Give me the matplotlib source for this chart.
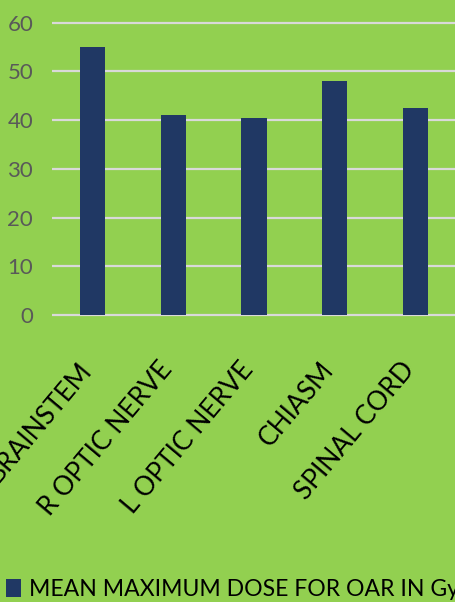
import matplotlib
matplotlib.use('Agg')
import matplotlib.pyplot as plt
from matplotlib.patches import Patch

# Data
organs = ["BRAINSTEM", "R OPTIC NERVE", "L OPTIC NERVE", "CHIASM", "SPINAL CORD"]
mean_max_dose = [55, 41, 40.4, 48, 42.5]
y_ticks = [0, 10, 20, 30, 40, 50, 60]
series_name = "MEAN MAXIMUM DOSE FOR OAR IN Gy"

# Colors
BG_COLOR = '#92D050'
BAR_COLOR = '#203864'
GRID_COLOR = '#D9D9D9'
TICK_COLOR = '#595959'

plt.rcParams['font.family'] = ['Lato', 'DejaVu Sans']

W, H = 456, 602
fig = plt.figure(figsize=(W / 100, H / 100), dpi=100, facecolor=BG_COLOR)
# axes: left at 52 px, right at figure edge, y=-0.5 at 317 px, y=61 at 18 px
ax = fig.add_axes([52 / W, 0.4728, 1 - 52 / W, 0.4976])
ax.set_facecolor(BG_COLOR)

x = list(range(len(organs)))
ax.bar(x, mean_max_dose, width=0.31, color=BAR_COLOR, zorder=3)

ax.set_xlim(-0.5, len(organs) - 0.5)
ax.set_ylim(-0.5, 61)
ax.set_yticks(y_ticks)
ax.yaxis.grid(True, color=GRID_COLOR, linewidth=1.6, zorder=1)
ax.set_axisbelow(True)

for spine in ax.spines.values():
    spine.set_visible(False)

ax.tick_params(axis='y', length=0, pad=13.5, labelsize=16, labelcolor=TICK_COLOR)
ax.tick_params(axis='x', length=0, pad=38)
ax.set_xticks(x)
ax.set_xticklabels(organs, rotation=50, ha='right', va='baseline',
                   rotation_mode='anchor', fontsize=19, color='black')

# Legend at the bottom
handle = Patch(facecolor=BAR_COLOR, edgecolor='none', label=series_name)
fig.legend(handles=[handle], loc='lower left', bbox_to_anchor=(5.7 / W, 2 / H),
           frameon=False, fontsize=16.6, borderpad=0, borderaxespad=0,
           handlelength=0.66, handleheight=0.78, handletextpad=0.36)

fig.savefig('out.png', dpi=100, facecolor=BG_COLOR)
